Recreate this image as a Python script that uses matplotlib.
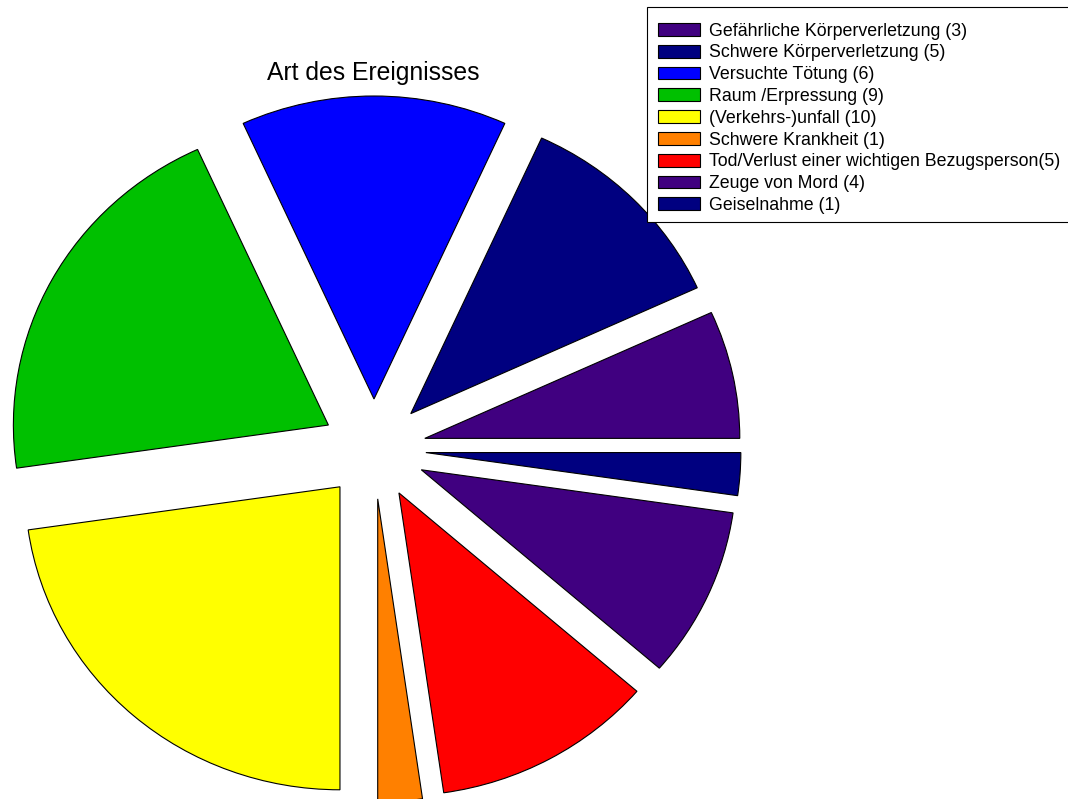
import matplotlib
matplotlib.use('Agg')
import matplotlib.pyplot as plt
from matplotlib.patches import Rectangle

plt.rcParams['font.family'] = ['Liberation Sans', 'DejaVu Sans']

labels = ['Gefährliche Körperverletzung (3)', 'Schwere Körperverletzung (5)',
          'Versuchte Tötung (6)', 'Raum /Erpressung (9)', '(Verkehrs-)unfall (10)',
          'Schwere Krankheit (1)', 'Tod/Verlust einer wichtigen Bezugsperson(5)',
          'Zeuge von Mord (4)', 'Geiselnahme (1)']
counts = [3, 5, 6, 9, 10, 1, 5, 4, 1]
colors = ['#400080', '#000080', '#0000ff', '#00c000', '#ffff00',
          '#ff8000', '#ff0000', '#400080', '#000080']

W, H = 1068, 799
fig = plt.figure(figsize=(W / 100, H / 100), dpi=100)
ax = fig.add_axes([0, 0, 1, 1])

wedges, _ = ax.pie(counts, colors=colors, startangle=0, counterclock=True,
                   explode=[0.165] * len(counts),
                   wedgeprops=dict(edgecolor='black', linewidth=0.8))

# pie centre at pixel (374, 449), radius 315 px wide, 303 px tall
ax.set_aspect('auto')
ax.set_xlim((0 - 374) / 315, (W - 374) / 315)
ax.set_ylim((449 - H) / 303, (449 - 0) / 303)
ax.axis('off')

fig.text(373 / W, 1 - 73 / H, 'Art des Ereignisses', fontsize=17.8,
         ha='center', va='center')

# legend box drawn separately so the entries sit where they do in the original
fig.patches.append(Rectangle((647 / W, 1 - 222 / H), 440 / W, 215 / H,
                             transform=fig.transFigure, facecolor='white',
                             edgecolor='black', linewidth=0.8, zorder=4))
leg = fig.legend(wedges, labels, loc='upper left',
                 bbox_to_anchor=(647 / W, 1 - 12 / H),
                 fontsize=12.8, frameon=False,
                 handlelength=2.36, handleheight=0.73, handletextpad=0.5,
                 labelspacing=0.27, borderpad=0.6, borderaxespad=0)
leg.set_zorder(5)

fig.savefig('out.png', dpi=100)
